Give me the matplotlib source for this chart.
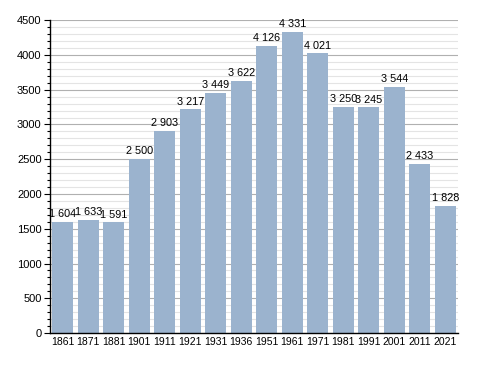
import matplotlib
matplotlib.use("Agg")
import matplotlib.pyplot as plt  # noqa: E402
from matplotlib.ticker import MultipleLocator  # noqa: E402

years = ["1861", "1871", "1881", "1901", "1911", "1921", "1931", "1936",
         "1951", "1961", "1971", "1981", "1991", "2001", "2011", "2021"]
population = [1604, 1633, 1591, 2500, 2903, 3217, 3449, 3622,
              4126, 4331, 4021, 3250, 3245, 3544, 2433, 1828]

plt.rcParams["font.family"] = ["Liberation Sans", "DejaVu Sans"]

fig = plt.figure(figsize=(4.88, 3.73), dpi=100)
ax = fig.add_axes([0.1025, 0.107, 0.836, 0.839])

x = list(range(len(years)))
ax.bar(x, population, width=0.82, color="#9bb3ce", zorder=2)

for xi, v in zip(x, population):
    label = f"{v:,}".replace(",", " ")
    ax.text(xi, v + 40, label, ha="center", va="bottom", fontsize=7.8, color="#000000", zorder=3)

ax.set_xlim(-0.5, len(years) - 0.5)
ax.set_ylim(0, 4500)
ax.yaxis.set_major_locator(MultipleLocator(500))
ax.yaxis.set_minor_locator(MultipleLocator(100))
ax.grid(axis="y", which="major", color="#b0b0b0", linewidth=0.8, zorder=0)
ax.grid(axis="y", which="minor", color="#e4e4e4", linewidth=0.8, zorder=0)
ax.set_axisbelow(True)

ax.set_xticks(x)
ax.set_xticklabels(years)
ax.tick_params(axis="x", length=0, labelsize=7.5, pad=3)
ax.tick_params(axis="y", which="major", length=4, width=0.8, labelsize=8, pad=2)
ax.tick_params(axis="y", which="minor", length=2.5, width=0.8)

ax.spines["top"].set_visible(False)
ax.spines["right"].set_visible(False)
ax.spines["left"].set_linewidth(1.0)
ax.spines["bottom"].set_linewidth(1.0)

fig.savefig("out.png", dpi=100)
